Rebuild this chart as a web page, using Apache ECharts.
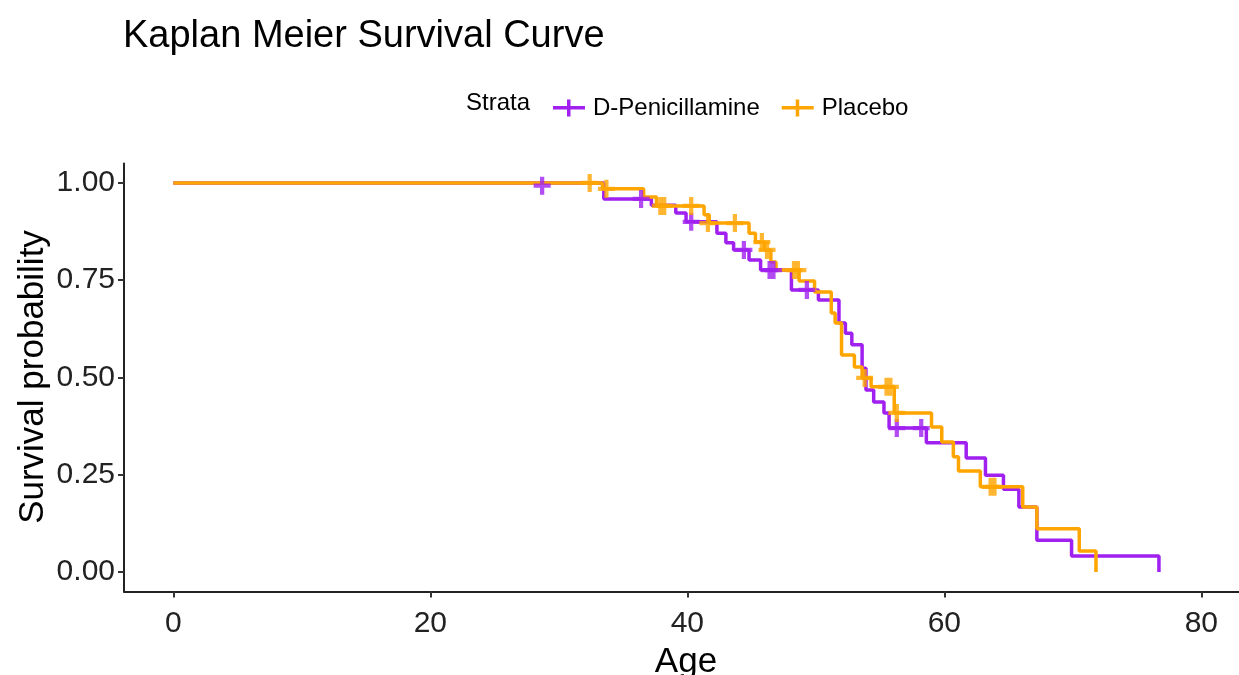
<!DOCTYPE html>
<html>
<head>
<meta charset="utf-8">
<script src="https://cdn.jsdelivr.net/npm/echarts@6/dist/echarts.min.js"></script>
<style>
html,body{margin:0;padding:0;background:#fff;}
#chart{width:1239px;height:675px;}
</style>
</head>
<body>
<div id="chart"></div>
<script>
// ---- data ----
var seriesNames = ['D-Penicillamine', 'Placebo'];
var xTicks = [0, 20, 40, 60, 80];
var yTicks = [0, 0.25, 0.5, 0.75, 1];

// Kaplan-Meier steps: [age, survival after event]
var dpenSteps = [
  [0, 1.0], [33.5, 0.959], [37.2, 0.943], [39.1, 0.923], [39.9, 0.900],
  [42.3, 0.871], [43.0, 0.846], [43.6, 0.828], [44.8, 0.802], [45.7, 0.776],
  [48.1, 0.725], [50.2, 0.699], [51.8, 0.640], [52.3, 0.614], [52.8, 0.584],
  [53.6, 0.524], [53.9, 0.468], [54.5, 0.437], [55.3, 0.409], [55.7, 0.370],
  [58.6, 0.332], [61.7, 0.293], [63.2, 0.249], [64.6, 0.213], [65.8, 0.167],
  [67.2, 0.082], [69.9, 0.041], [76.7, 0.0]
];
var placeboSteps = [
  [0, 1.0], [33.4, 0.985], [36.6, 0.964], [37.6, 0.941], [41.3, 0.918],
  [41.7, 0.897], [44.8, 0.871], [45.3, 0.848], [46.0, 0.828], [46.5, 0.797],
  [46.9, 0.776], [48.7, 0.748], [49.9, 0.720], [51.2, 0.666], [51.5, 0.640],
  [52.0, 0.558], [53.0, 0.527], [53.6, 0.499], [54.3, 0.476], [56.1, 0.409],
  [59.0, 0.373], [59.8, 0.334], [60.7, 0.296], [61.1, 0.260], [62.8, 0.219],
  [66.1, 0.167], [67.2, 0.111], [70.5, 0.054], [71.8, 0.0]
];
// censored observations: [age, survival]
var dpenCensor = [
  [28.7, 0.993], [36.4, 0.959], [40.3, 0.900], [44.4, 0.828], [46.4, 0.776],
  [46.7, 0.776], [49.3, 0.725], [56.3, 0.370], [58.2, 0.370]
];
var placeboCensor = [
  [32.4, 1.0], [33.7, 0.985], [37.9, 0.941], [38.2, 0.941], [40.3, 0.941],
  [41.6, 0.897], [43.7, 0.897], [45.8, 0.848], [46.2, 0.828], [48.3, 0.776],
  [48.6, 0.776], [53.8, 0.499], [55.5, 0.476], [55.8, 0.476], [56.3, 0.409],
  [63.6, 0.219], [63.9, 0.219]
];

var colors = ['#A020F0', '#FFA500'];
var FONT = 'Liberation Sans, Arial, sans-serif';
var plusSym = 'path://M0,6.5L16,6.5L16,10.5L0,10.5Z M6,0L10,0L10,17L6,17Z';
var legendSym = 'path://M0,6.5L32,6.5L32,10L0,10Z M14,0L17.5,0L17.5,17L14,17Z';

var chart = echarts.init(document.getElementById('chart'), null, {renderer: 'canvas'});
chart.setOption({
  animation: false,
  backgroundColor: '#ffffff',
  title: {
    text: 'Kaplan Meier Survival Curve',
    left: 118, top: 13,
    textStyle: {fontFamily: FONT, fontSize: 38, fontWeight: 'normal', color: '#000'}
  },
  legend: {
    data: seriesNames.map(function (n, i) { return {name: n, icon: legendSym, itemStyle: {color: colors[i]}}; }),
    left: 548, top: 91,
    itemWidth: 32, itemHeight: 17, itemGap: 22,
    textStyle: {fontFamily: FONT, fontSize: 24, color: '#000', padding: [0, 0, 0, 3]}
  },
  graphic: [
    {type: 'text', left: 466, top: 91, style: {text: 'Strata', font: '24px ' + FONT, fill: '#000'}},
    {type: 'text', x: 686, y: 662, style: {text: 'Age', font: '35px ' + FONT, fill: '#000', textAlign: 'center', textVerticalAlign: 'middle'}},
    {type: 'text', x: 33, y: 377, rotation: Math.PI / 2, style: {text: 'Survival probability', font: '35px ' + FONT, fill: '#000', textAlign: 'center', textVerticalAlign: 'middle'}}
  ],
  grid: {left: 124, right: 0, top: 163.5, bottom: 83.5, containLabel: false},
  xAxis: {
    type: 'value', min: -3.84, max: 82.93,
    splitLine: {show: false},
    axisLine: {show: true, onZero: false, lineStyle: {color: '#222', width: 2}},
    axisTick: {show: true, length: 6, lineStyle: {color: '#333', width: 2}, customValues: xTicks},
    axisLabel: {customValues: xTicks, margin: 17, fontFamily: FONT, fontSize: 30, color: '#222'}
  },
  yAxis: {
    type: 'value', min: -0.05, max: 1.05,
    splitLine: {show: false},
    axisLine: {show: true, onZero: false, lineStyle: {color: '#222', width: 2}},
    axisTick: {show: true, length: 6, lineStyle: {color: '#333', width: 2}, customValues: yTicks},
    axisLabel: {customValues: yTicks, margin: 9, fontFamily: FONT, fontSize: 30, color: '#222',
      formatter: function (v) { return v.toFixed(2); }}
  },
  series: [
    {name: seriesNames[0], type: 'line', step: 'end', data: dpenSteps, showSymbol: false,
      lineStyle: {color: colors[0], width: 3.5}, itemStyle: {color: colors[0]}, z: 2},
    {name: seriesNames[1], type: 'line', step: 'end', data: placeboSteps, showSymbol: false,
      lineStyle: {color: colors[1], width: 3.5}, itemStyle: {color: colors[1]}, z: 3},
    {name: seriesNames[0], type: 'scatter', data: dpenCensor, symbol: plusSym, symbolSize: [17, 18],
      itemStyle: {color: colors[0]}, z: 4},
    {name: seriesNames[1], type: 'scatter', data: placeboCensor, symbol: plusSym, symbolSize: [17, 18],
      itemStyle: {color: colors[1]}, z: 5}
  ]
});
</script>
</body>
</html>
